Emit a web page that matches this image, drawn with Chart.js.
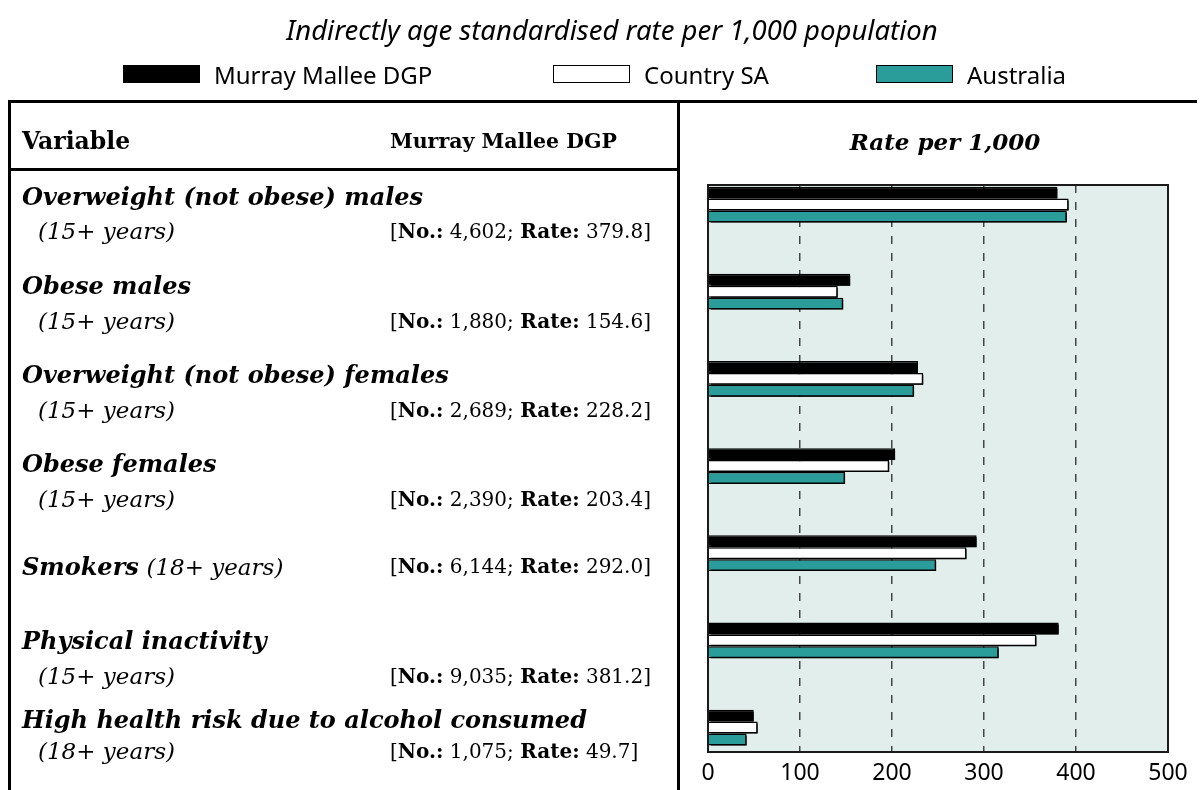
<!DOCTYPE html>
<html>
<head>
<meta charset="utf-8">
<script src="https://cdn.jsdelivr.net/npm/chart.js@4.4.0/dist/chart.umd.min.js"></script>
<style>
  body { margin: 0; background: #fff; }
  #page { position: relative; width: 1203px; height: 790px; overflow: hidden; }
  #wrap { position: absolute; left: 0; top: 0; width: 1203px; height: 790px; }
  .t { position: absolute; white-space: nowrap; transform: translateY(-50%); color: #000; }
  .tbl { font-family: "DejaVu Serif", serif; font-size: 22px; }
  .row { font-size: 24px; }
  .stat { font-size: 20px; }
  .age { font-size: 23px; }
  .line { position: absolute; background: #000; }
  .sw { position: absolute; top: 65px; width: 77px; height: 18px; box-sizing: border-box; border: 1px solid #000; }
  .leg { font-family: "Noto Sans", sans-serif; font-size: 24px; }
</style>
</head>
<body>
<div id="page">
  <div id="wrap"><canvas id="rates"></canvas></div>
</div>
<script>
const categories = ['Overweight (not obese) males', 'Obese males', 'Overweight (not obese) females',
  'Obese females', 'Smokers', 'Physical inactivity', 'High health risk due to alcohol consumed'];
const ageGroups = ['(15+ years)', '(15+ years)', '(15+ years)', '(15+ years)', '(18+ years)', '(15+ years)', '(18+ years)'];
const counts = [4602, 1880, 2689, 2390, 6144, 9035, 1075];
const murrayMallee = [379.8, 154.6, 228.2, 203.4, 292.0, 381.2, 49.7];
const countrySA = [392, 141, 234, 197, 281, 357, 54];
const australia = [390, 147, 224, 149, 248, 316, 42];
const seriesNames = ['Murray Mallee DGP', 'Country SA', 'Australia'];
const seriesColors = ['#000000', '#ffffff', '#2a9c9a'];
const xTicks = [0, 100, 200, 300, 400, 500];

const page = document.getElementById('page');
function addText(txt, cls, left, y, style) {
  const d = document.createElement('div');
  d.className = 't ' + cls;
  d.style.left = left + 'px';
  d.style.top = y + 'px';
  if (style) Object.assign(d.style, style);
  d.innerHTML = txt;
  page.appendChild(d);
  return d;
}
function addLine(l, t, w, h) {
  const d = document.createElement('div');
  d.className = 'line';
  Object.assign(d.style, { left: l + 'px', top: t + 'px', width: w + 'px', height: h + 'px' });
  page.appendChild(d);
}

// title + legend
addText('Indirectly age standardised rate per 1,000 population', '', 612, 29,
  { transform: 'translate(-50%,-50%)', fontFamily: '"Noto Sans", sans-serif', fontStyle: 'italic', fontSize: '27.5px' });
const legX = [123, 553, 876];
seriesNames.forEach((name, i) => {
  const s = document.createElement('div');
  s.className = 'sw';
  s.style.left = legX[i] + 'px';
  s.style.background = seriesColors[i];
  page.appendChild(s);
  addText(name, 'leg', legX[i] + 91, 74);
});

// table frame
addLine(8, 100, 1189, 3);
addLine(8, 100, 3, 690);
addLine(677, 100, 3, 690);
addLine(8, 168, 672, 3);
addText('<b>Variable</b>', 'tbl', 22, 141, { fontSize: '23.5px' });
addText('<b>Murray Mallee DGP</b>', 'tbl', 390, 141, { fontSize: '20.5px' });
addText('<b><i>Rate per 1,000</i></b>', 'tbl', 945, 141, { transform: 'translate(-50%,-50%)', fontSize: '23px' });

const titleY = [196, 285, 374, 463, 566, 640, 719];
const subY = [231, 321, 410, 499, 566, 676, 751];
categories.forEach((c, i) => {
  const stat = '[<b>No.:</b> ' + counts[i].toLocaleString('en-US') + '; <b>Rate:</b> ' + murrayMallee[i].toFixed(1) + ']';
  if (titleY[i] === subY[i]) {
    addText('<b><i>' + c + '</i></b> <i class="age">' + ageGroups[i] + '</i>', 'tbl row', 22, titleY[i]);
  } else {
    addText('<b><i>' + c + '</i></b>', 'tbl row', 22, titleY[i]);
    addText('<i>' + ageGroups[i] + '</i>', 'tbl age', 38, subY[i]);
  }
  addText(stat, 'tbl stat', 390, subY[i]);
});

const plotFrame = {
  id: 'plotFrame',
  beforeDraw(chart) {
    const { ctx, chartArea: a } = chart;
    ctx.save();
    ctx.fillStyle = '#e2eeec';
    ctx.fillRect(a.left, a.top, a.width, a.height);
    ctx.restore();
  },
  beforeDatasetsDraw(chart) {
    const ctx = chart.ctx;
    ctx.save();
    ctx.shadowColor = '#000';
    ctx.shadowOffsetX = 2;
    ctx.shadowOffsetY = 2;
    ctx.shadowBlur = 0;
  },
  afterDatasetsDraw(chart) {
    chart.ctx.restore();
  },
  afterDraw(chart) {
    const { ctx, chartArea: a } = chart;
    ctx.save();
    ctx.strokeStyle = '#1a1a1a';
    ctx.lineWidth = 2;
    ctx.strokeRect(a.left, a.top, a.width, a.height);
    ctx.restore();
  }
};

const allSeries = [murrayMallee, countrySA, australia];
new Chart(document.getElementById('rates'), {
  type: 'bar',
  data: {
    datasets: allSeries.map((vals, k) => ({
      label: seriesNames[k],
      data: vals.map((v, i) => ({ x: v, y: i })),
      backgroundColor: seriesColors[k],
      borderColor: '#000',
      borderWidth: 1.5,
      categoryPercentage: 0.41,
      barPercentage: 1
    }))
  },
  options: {
    indexAxis: 'y',
    responsive: true,
    maintainAspectRatio: false,
    animation: false,
    layout: { padding: { left: 708, right: 35, top: 185, bottom: 0 } },
    plugins: { legend: { display: false }, tooltip: { enabled: false } },
    scales: {
      y: {
        type: 'linear', reverse: true, offset: false, min: -0.224, max: 6.281, display: false,
        afterBuildTicks: s => { s.ticks = categories.map((c, i) => ({ value: i })); }
      },
      x: {
        type: 'linear', min: 0, max: 500,
        afterBuildTicks: s => { s.ticks = xTicks.map(v => ({ value: v })); },
        afterFit: s => { s.height = 38; },
        grid: {
          drawTicks: false,
          lineWidth: 1.5,
          color: c => (c.tick && c.tick.value > 0 && c.tick.value < 500) ? '#444' : 'rgba(0,0,0,0)'
        },
        border: { display: false, dash: [8, 9] },
        ticks: {
          color: '#000', padding: 8,
          font: { family: '"Noto Sans", sans-serif', size: 23 }
        }
      }
    }
  },
  plugins: [plotFrame]
});
</script>
</body>
</html>
